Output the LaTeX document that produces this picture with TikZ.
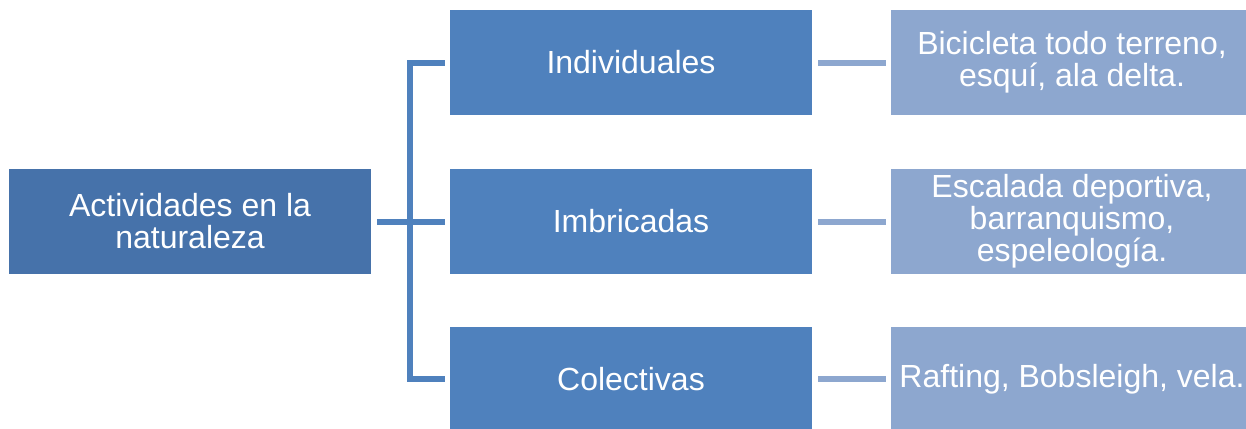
\documentclass[tikz,border=0pt]{standalone}
\usepackage{fontspec}
\setmainfont{Liberation Sans}
\definecolor{azulesc}{HTML}{4672AA}
\definecolor{azul}{HTML}{4F81BD}
\definecolor{azulcla}{HTML}{8DA7CF}
\begin{document}
\begin{tikzpicture}[x=0.5pt, y=-0.5pt,
	caixa/.style={rectangle, text=white, inner sep=0pt, align=center,
		minimum width=181pt, minimum height=52.5pt,
		font=\fontsize{16}{16}\selectfont},
	ligA/.style={draw=azul, line width=3pt},
	ligB/.style={draw=azulcla, line width=3pt, shorten <=3pt, shorten >=2.5pt}]
	
		\clip (0, 0) rectangle (1246, 428);
		
		% Raiz
		
		\draw node[caixa, fill=azulesc] (atv) at (190, 221.5) {Actividades en la\\naturaleza} ;
		
		% Nivel 2
		
		\draw node[caixa, fill=azul] (ind) at (631, 62.5) {Individuales} ;
		
		\draw node[caixa, fill=azul] (imb) at (631, 221.5) {Imbricadas} ;
		
		\draw node[caixa, fill=azul] (col) at (631, 379) {Colectivas} ;
		
		% Nivel 3
		
		\draw node[caixa, fill=azulcla] (ex1) at (1072, 62.5) {Bicicleta todo terreno,\\esquí, ala delta.} ;
		
		\draw node[caixa, fill=azulcla] (ex2) at (1072, 221.5) {Escalada deportiva,\\barranquismo,\\espeleología.} ;
		
		\draw node[caixa, fill=azulcla] (ex3) at (1072, 379) {Rafting, Bobsleigh, vela.} ;
		
		% Ligacoes
		
		\coordinate (eixo) at (410, 221.5);
		
		\draw[ligA, shorten <=3pt, shorten >=2.5pt] (atv.east) -- (imb.west);
		
		\draw[ligA, shorten <=2.5pt, shorten >=2.5pt] (ind.west) -| (eixo) |- (col.west);
		
		\draw[ligB] (ind.east) -- (ex1.west);
		
		\draw[ligB] (imb.east) -- (ex2.west);
		
		\draw[ligB] (col.east) -- (ex3.west);
		
	\end{tikzpicture}
\end{document}
